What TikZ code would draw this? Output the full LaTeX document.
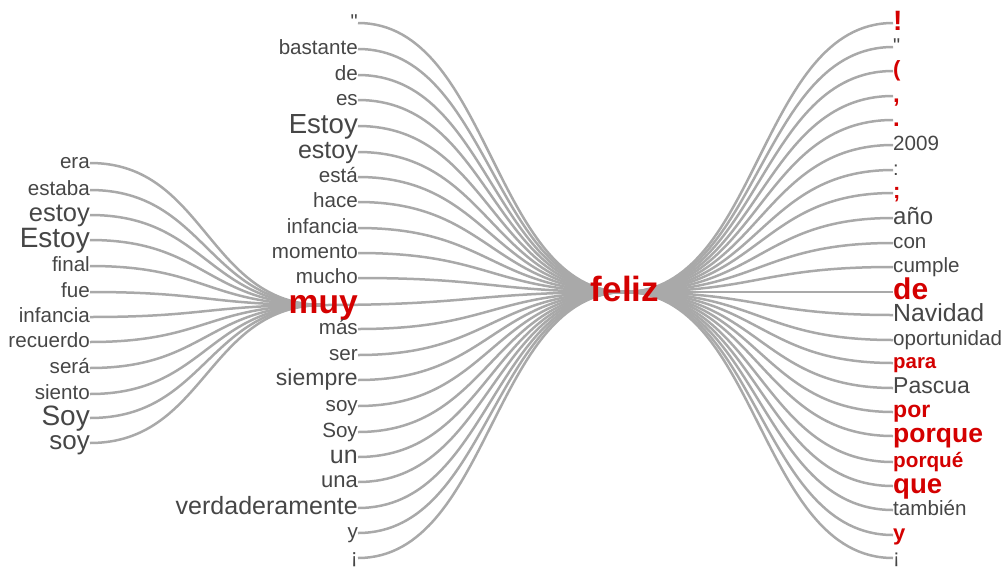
\documentclass[tikz,border=0pt]{standalone}
\usepackage{fontspec}
\setmainfont{Liberation Sans}
\newfontfamily\plainsans{Liberation Sans}
\usetikzlibrary{backgrounds}
\definecolor{txtgray}{HTML}{464646}
\definecolor{hired}{HTML}{D40000}
\definecolor{linkgray}{HTML}{A9A9A9}
\tikzset{
  w/.code={\pgfmathsetmacro\mytxth{0.519*#1}%
    \pgfkeysalso{inner sep=0pt, text=txtgray, font=\plainsans\fontsize{#1}{#1}\selectfont,
      text height=\mytxth pt, text depth=0pt}},
  rd/.code={\pgfmathsetmacro\mytxth{0.519*#1}%
    \pgfkeysalso{inner sep=0pt, text=hired, font=\plainsans\bfseries\fontsize{#1}{#1}\selectfont,
      text height=\mytxth pt, text depth=0pt}},
  link/.style={draw=linkgray, line width=2.5pt},
  me/.style={anchor=east},
  mw/.style={anchor=west}
}
\begin{document}
\begin{tikzpicture}[x=1pt,y=-1pt]
\useasboundingbox (0,0) rectangle (1005,571);
% centre words
\node[rd=35, anchor=center] (feliz) at (625,292) {feliz};
\node[rd=33.6, me] (m12) at (358,305) {muy};
% left column
\node[w=20.6, me] (l1) at (90,163) {era};
\node[w=20.6, me] (l2) at (90,190) {estaba};
\node[w=25.5, me] (l3) at (90,215) {estoy};
\node[w=28, me] (l4) at (90,240) {Estoy};
\node[w=20.6, me] (l5) at (90,266) {final};
\node[w=20.6, me] (l6) at (90,292) {fue};
\node[w=20.6, me] (l7) at (90,317) {infancia};
\node[w=20.6, me] (l8) at (90,342) {recuerdo};
\node[w=20.6, me] (l9) at (90,368) {será};
\node[w=20.6, me] (l10) at (90,394) {siento};
\node[w=28, me] (l11) at (90,418) {Soy};
\node[w=26, me] (l12) at (90,443) {soy};
% middle column
\node[w=20, me] (m1) at (358,23) {"};
\node[w=20.6, me] (m2) at (358,49) {bastante};
\node[w=20.6, me] (m3) at (358,75) {de};
\node[w=20.6, me] (m4) at (358,100) {es};
\node[w=27.6, me] (m5) at (358,126) {Estoy};
\node[w=25, me] (m6) at (358,152) {estoy};
\node[w=20.6, me] (m7) at (358,177) {está};
\node[w=20.6, me] (m8) at (358,202) {hace};
\node[w=20.6, me] (m9) at (358,228) {infancia};
\node[w=20.6, me] (m10) at (358,253) {momento};
\node[w=20.6, me] (m11) at (358,278) {mucho};
\node[w=20.6, me] (m13) at (358,329) {más};
\node[w=20.6, me] (m14) at (358,355) {ser};
\node[w=23, me] (m15) at (358,380) {siempre};
\node[w=20.6, me] (m16) at (358,406) {soy};
\node[w=20.6, me] (m17) at (358,432) {Soy};
\node[w=25, me] (m18) at (358,457) {un};
\node[w=22, me] (m19) at (358,482) {una};
\node[w=25, me] (m20) at (358,508) {verdaderamente};
\node[w=20.6, me] (m21) at (358,533) {y};
\node[w=20.6, me] (m22) at (358,558) {¡};
% right column
\node[rd=28, mw] (r1) at (893,23) {!};
\node[w=20, mw] (r2) at (893,47) {"};
\node[rd=22, mw] (r3) at (893,71) {(};
\node[rd=24, mw] (r4) at (893,96) {,};
\node[rd=24, mw] (r5) at (893,120) {.};
\node[w=20.6, mw] (r6) at (893,145) {2009};
\node[w=20, mw] (r7) at (893,170) {:};
\node[rd=22, mw] (r8) at (893,193) {;};
\node[w=24, mw] (r9) at (893,218) {año};
\node[w=20.6, mw] (r10) at (893,243) {con};
\node[w=20.6, mw] (r11) at (893,267) {cumple};
\node[rd=30, mw] (r12) at (893,292) {de};
\node[w=24.8, mw] (r13) at (893,315) {Navidad};
\node[w=20.6, mw] (r14) at (893,340) {oportunidad};
\node[rd=20.4, mw] (r15) at (893,363) {para};
\node[w=23, mw] (r16) at (893,388) {Pascua};
\node[rd=23, mw] (r17) at (893,412) {por};
\node[rd=26.5, mw] (r18) at (893,436) {porque};
\node[rd=20.7, mw] (r19) at (893,462) {porqué};
\node[rd=27.6, mw] (r20) at (893,486) {que};
\node[w=20.6, mw] (r21) at (893,510) {también};
\node[rd=22, mw] (r22) at (893,535) {y};
\node[w=20, mw] (r23) at (893,558) {¡};
% links
\begin{scope}[on background layer]
\foreach \i in {1,...,12}
  \draw[link] (l\i.east) .. controls +(116,0) and +(-116,0) .. (m12.center);
\foreach \i in {1,...,11}
  \draw[link] (m\i.east) .. controls +(133,0) and +(-133,0) .. (feliz.center);
\foreach \i in {13,...,22}
  \draw[link] (m\i.east) .. controls +(133,0) and +(-133,0) .. (feliz.center);
\draw[link] (m12.center) .. controls +(151,0) and +(-151,0) .. (feliz.center);
\foreach \i in {1,...,23}
  \draw[link] (feliz.center) .. controls +(134,0) and +(-134,0) .. (r\i.west);
\end{scope}
\end{tikzpicture}
\end{document}
